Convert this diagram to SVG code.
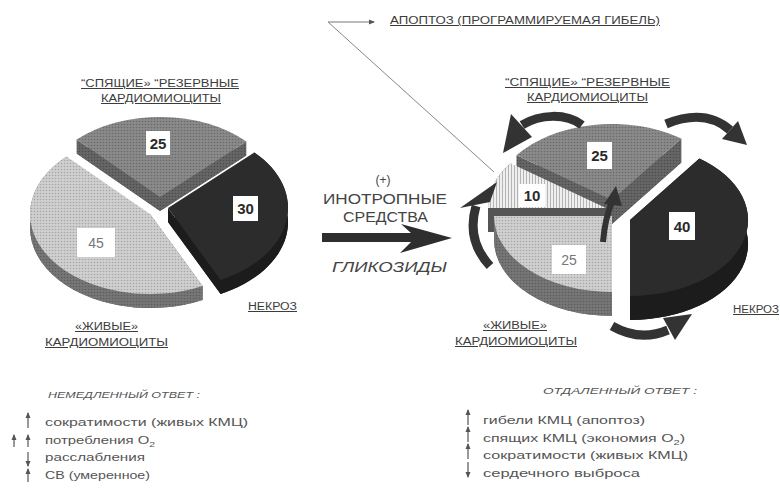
<svg xmlns="http://www.w3.org/2000/svg" width="780" height="492" viewBox="0 0 780 492">
<defs>
<pattern id="pMid" width="3" height="3" patternUnits="userSpaceOnUse"><rect width="3" height="3" fill="#8a8a8a"/><circle cx="1.5" cy="1.5" r="0.8" fill="#686868"/></pattern>
<pattern id="pMidSide" width="3" height="3" patternUnits="userSpaceOnUse"><rect width="3" height="3" fill="#666"/><circle cx="1.5" cy="1.5" r="0.8" fill="#4c4c4c"/></pattern>
<pattern id="pLight" width="3" height="3" patternUnits="userSpaceOnUse"><rect width="3" height="3" fill="#d0d0d0"/><circle cx="1.5" cy="1.5" r="0.8" fill="#a6a6a6"/></pattern>
<pattern id="pLightSide" width="3" height="3" patternUnits="userSpaceOnUse"><rect width="3" height="3" fill="#767676"/><circle cx="1.5" cy="1.5" r="0.8" fill="#5c5c5c"/></pattern>
<pattern id="pHatch" width="3" height="3" patternUnits="userSpaceOnUse"><rect width="3" height="3" fill="#efefef"/><rect x="1" width="1" height="3" fill="#b4b4b4"/></pattern>
<marker id="tip" markerWidth="6" markerHeight="6" refX="5" refY="3" orient="auto" markerUnits="userSpaceOnUse"><path d="M0,0.5 L6,3 L0,5.5 Z" fill="#555"/></marker>
</defs>
<style>
.t{font-family:"Liberation Sans",Arial,sans-serif;fill:#3c3c3c}
.cap{font-size:10px;text-decoration:underline}
.num{font-family:"Liberation Sans",Arial,sans-serif;font-size:15px;font-weight:bold;fill:#2a2a2a;text-anchor:middle}
.numl{font-family:"Liberation Sans",Arial,sans-serif;font-size:14px;fill:#777;text-anchor:middle}
.box{fill:#ffffff}
.mid{fill:url(#pMid)}
.midS{fill:url(#pMidSide)}
.lig{fill:url(#pLight)}
.ligS{fill:url(#pLightSide)}
.drk{fill:#2c2c2c}
.drkS{fill:#1c1c1c}
.hat{fill:url(#pHatch)}
.hatS{fill:#555}
.drug{font-family:"Liberation Sans",Arial,sans-serif;fill:#444;text-anchor:middle}
.lst{font-family:"Liberation Sans",Arial,sans-serif;font-size:11.5px;fill:#555}
.hdr{font-family:"Liberation Sans",Arial,sans-serif;font-size:9px;font-style:italic;fill:#555}
.ca{fill:none;stroke:#333;stroke-width:9;stroke-linecap:butt}
.ch{fill:#333}
.la{stroke:#555;stroke-width:1.2;marker-end:url(#tip)}
</style>

<!-- LEFT PIE -->
<g id="left-reserve">
<path class="midS" d="M160,211 L76.6,153.5 A120,80 0 0 1 246.3,155.4 Z"/>
<path class="midS" d="M160,197 L76.6,139.5 L76.6,153.5 L160,211 Z"/>
<path class="midS" d="M160,197 L246.3,141.4 L246.3,155.4 L160,211 Z"/>
<path class="mid" d="M160,197 L76.6,139.5 A120,80 0 0 1 246.3,141.4 Z"/>
<rect class="box" x="146" y="131" width="24" height="24"/>
<text class="num" x="158" y="148.5">25</text>
</g>
<g id="left-necrosis">
<path class="drkS" d="M168,222 L254.3,166.4 A120,80 0 0 1 220.6,293.9 Z"/>
<path class="drkS" d="M254.3,152.4 A120,80 0 0 1 220.6,279.9 L220.6,293.9 A120,80 0 0 0 254.3,166.4 Z"/>
<path class="drkS" d="M168,208 L220.6,279.9 L220.6,293.9 L168,222 Z"/>
<path class="drk" d="M168,208 L254.3,152.4 A120,80 0 0 1 220.6,279.9 Z"/>
<rect class="box" x="233" y="196" width="25" height="25"/>
<text class="num" x="245.5" y="214">30</text>
</g>
<g id="left-live">
<path class="ligS" d="M150,228 L202.6,299.9 A120,80 0 0 1 66.6,170.5 Z"/>
<path class="ligS" d="M202.6,285.9 A120,80 0 0 1 66.6,156.5 L66.6,170.5 A120,80 0 0 0 202.6,299.9 Z"/>
<path class="ligS" d="M150,214 L202.6,285.9 L202.6,299.9 L150,228 Z"/>
<path class="lig" d="M150,214 L202.6,285.9 A120,80 0 0 1 66.6,156.5 Z"/>
<rect class="box" x="77" y="228" width="38" height="29"/>
<text class="numl" x="96" y="248">45</text>
</g>
<g id="left-labels">
<text class="t cap" x="160" y="87" text-anchor="middle" textLength="158" lengthAdjust="spacingAndGlyphs">“СПЯЩИЕ» “РЕЗЕРВНЫЕ</text>
<text class="t cap" x="161" y="102" text-anchor="middle" textLength="120" lengthAdjust="spacingAndGlyphs">КАРДИОМИОЦИТЫ</text>
<text class="t cap" x="248" y="310" textLength="49" lengthAdjust="spacingAndGlyphs">НЕКРОЗ</text>
<text class="t cap" x="75" y="330" textLength="63" lengthAdjust="spacingAndGlyphs">«ЖИВЫЕ»</text>
<text class="t cap" x="45" y="346" textLength="123" lengthAdjust="spacingAndGlyphs">КАРДИОМИОЦИТЫ</text>
</g>

<!-- RIGHT PIE -->
<g id="right-reserve">
<path class="midS" d="M612,224 L516.5,179.3 A118,76 0 0 1 681.4,162.5 Z"/>
<path class="midS" d="M612,200 L516.5,155.3 L516.5,179.3 L612,224 Z"/>
<path class="midS" d="M612,200 L681.4,138.5 L681.4,162.5 L612,224 Z"/>
<path class="mid" d="M612,200 L516.5,155.3 A118,76 0 0 1 681.4,138.5 Z"/>
<rect class="box" x="587" y="142" width="25" height="27"/>
<text class="num" x="599.5" y="161">25</text>
</g>
<g id="right-necrosis">
<path class="drkS" d="M630,244 L699.4,182.5 A118,76 0 0 1 630,320 Z"/>
<path class="drkS" d="M699.4,158.5 A118,76 0 0 1 630,296 L630,320 A118,76 0 0 0 699.4,182.5 Z"/>
<path class="drkS" d="M630,220 L699.4,158.5 L699.4,182.5 L630,244 Z"/>
<path class="drk" d="M630,220 L699.4,158.5 A118,76 0 0 1 630,296 Z"/>
<rect class="box" x="669" y="212" width="26" height="28"/>
<text class="num" x="682" y="232">40</text>
</g>
<g id="right-apoptosis">
<path class="hatS" d="M606,232 L488,232 A118,76 0 0 1 510.5,187.3 Z"/>
<path class="hatS" d="M488,208 A118,76 0 0 1 510.5,163.3 L510.5,187.3 A118,76 0 0 0 488,232 Z"/>
<path class="hatS" d="M606,208 L488,208 L488,232 L606,232 Z"/>
<path class="hat" d="M606,208 L488,208 A118,76 0 0 1 510.5,163.3 Z"/>
<rect class="box" x="519" y="184" width="26" height="23"/>
<text class="num" x="532" y="201">10</text>
</g>
<g id="right-live">
<path class="ligS" d="M612,240 L612,316 A118,76 0 0 1 494,240 Z"/>
<path class="ligS" d="M612,292 A118,76 0 0 1 494,216 L494,240 A118,76 0 0 0 612,316 Z"/>
<path class="lig" d="M612,216 L612,292 A118,76 0 0 1 494,216 Z"/>
<rect class="box" x="552" y="245" width="34" height="29"/>
<text class="numl" x="569" y="265">25</text>
</g>
<g id="right-labels">
<text class="t cap" x="587.5" y="86" text-anchor="middle" textLength="165" lengthAdjust="spacingAndGlyphs">“СПЯЩИЕ» “РЕЗЕРВНЫЕ</text>
<text class="t cap" x="587.5" y="101" text-anchor="middle" textLength="121" lengthAdjust="spacingAndGlyphs">КАРДИОМИОЦИТЫ</text>
<text class="t cap" x="733" y="313" textLength="46" lengthAdjust="spacingAndGlyphs">НЕКРОЗ</text>
<text class="t cap" x="483" y="329" textLength="64" lengthAdjust="spacingAndGlyphs">«ЖИВЫЕ»</text>
<text class="t cap" x="455" y="345" textLength="122" lengthAdjust="spacingAndGlyphs">КАРДИОМИОЦИТЫ</text>
<text class="t cap" x="390" y="24" textLength="270" lengthAdjust="spacingAndGlyphs">АПОПТОЗ (ПРОГРАММИРУЕМАЯ  ГИБЕЛЬ)</text>
</g>

<!-- DRUGS -->
<g id="drugs">
<text class="drug" x="383" y="184" font-size="12">(+)</text>
<text class="drug" x="385" y="204" font-size="15" textLength="124" lengthAdjust="spacingAndGlyphs">ИНОТРОПНЫЕ</text>
<text class="drug" x="385.5" y="222" font-size="15" textLength="85" lengthAdjust="spacingAndGlyphs">СРЕДСТВА</text>
<text class="drug" x="389.5" y="272" font-size="15.5" font-style="italic" textLength="115" lengthAdjust="spacingAndGlyphs">ГЛИКОЗИДЫ</text>
</g>

<!-- LISTS -->
<g id="immediate">
<text class="hdr" x="48" y="398" textLength="152" lengthAdjust="spacingAndGlyphs">НЕМЕДЛЕННЫЙ  ОТВЕТ :</text>
<text class="lst" x="45" y="426" textLength="203" lengthAdjust="spacingAndGlyphs">сократимости (живых КМЦ)</text>
<text class="lst" x="45" y="444" textLength="110" lengthAdjust="spacingAndGlyphs">потребления O<tspan font-size="8" dy="3">2</tspan></text>
<text class="lst" x="45" y="461" textLength="100" lengthAdjust="spacingAndGlyphs">расслабления</text>
<text class="lst" x="45" y="479" textLength="105" lengthAdjust="spacingAndGlyphs">СВ (умеренное)</text>
</g>
<g id="delayed">
<text class="hdr" x="543" y="394" textLength="154" lengthAdjust="spacingAndGlyphs">ОТДАЛЕННЫЙ ОТВЕТ :</text>
<text class="lst" x="483" y="424" textLength="162" lengthAdjust="spacingAndGlyphs">гибели КМЦ (апоптоз)</text>
<text class="lst" x="483" y="442" textLength="202" lengthAdjust="spacingAndGlyphs">спящих  КМЦ (экономия O<tspan font-size="8" dy="3">2</tspan><tspan dy="-3">)</tspan></text>
<text class="lst" x="483" y="459" textLength="205" lengthAdjust="spacingAndGlyphs">сократимости (живых КМЦ)</text>
<text class="lst" x="483" y="477" textLength="157" lengthAdjust="spacingAndGlyphs">сердечного  выброса</text>
</g>

<!-- CONNECTORS -->
<g id="connectors">
<path d="M322,233 L411,233 L401,224 L452,238 L400,253 L411,242 L322,242 Z" fill="#2e2e2e"/>
<line x1="328" y1="22" x2="374" y2="22" stroke="#777" stroke-width="1" marker-end="url(#tip)"/>
<line x1="328" y1="22" x2="494" y2="172" stroke="#888" stroke-width="1"/>
<path class="ca" d="M582,125 C566,113 540,114 522,125"/>
<path class="ch" d="M511,114 L532,137 L503,153 Z"/>
<path class="ca" d="M666,124 Q705,108 730,130"/>
<path class="ch" d="M738,121 L722,139 L747,145 Z"/>
<path class="ca" d="M490,266 Q466,240 476,206"/>
<path class="ch" d="M460,208 L490,202 L497,182 Z"/>
<path class="ca" d="M612,326 Q640,342 668,330"/>
<path class="ch" d="M663,318 L675,340 L692,314 Z"/>
<path d="M603,242 Q605,218 612,202" fill="none" stroke="#333" stroke-width="6"/>
<path class="ch" d="M604,204 L622,206 L616,186 Z"/>
<line class="la" x1="28" y1="428" x2="28" y2="413"/>
<line class="la" x1="14" y1="447" x2="14" y2="435"/>
<line class="la" x1="28" y1="447" x2="28" y2="435"/>
<line class="la" x1="28" y1="452" x2="28" y2="466"/>
<line class="la" x1="28" y1="482" x2="28" y2="469"/>
<line class="la" x1="468" y1="425" x2="468" y2="410"/>
<line class="la" x1="468" y1="442" x2="468" y2="427"/>
<line class="la" x1="468" y1="459" x2="468" y2="444"/>
<line class="la" x1="468" y1="462" x2="468" y2="477"/>
</g>
</svg>
